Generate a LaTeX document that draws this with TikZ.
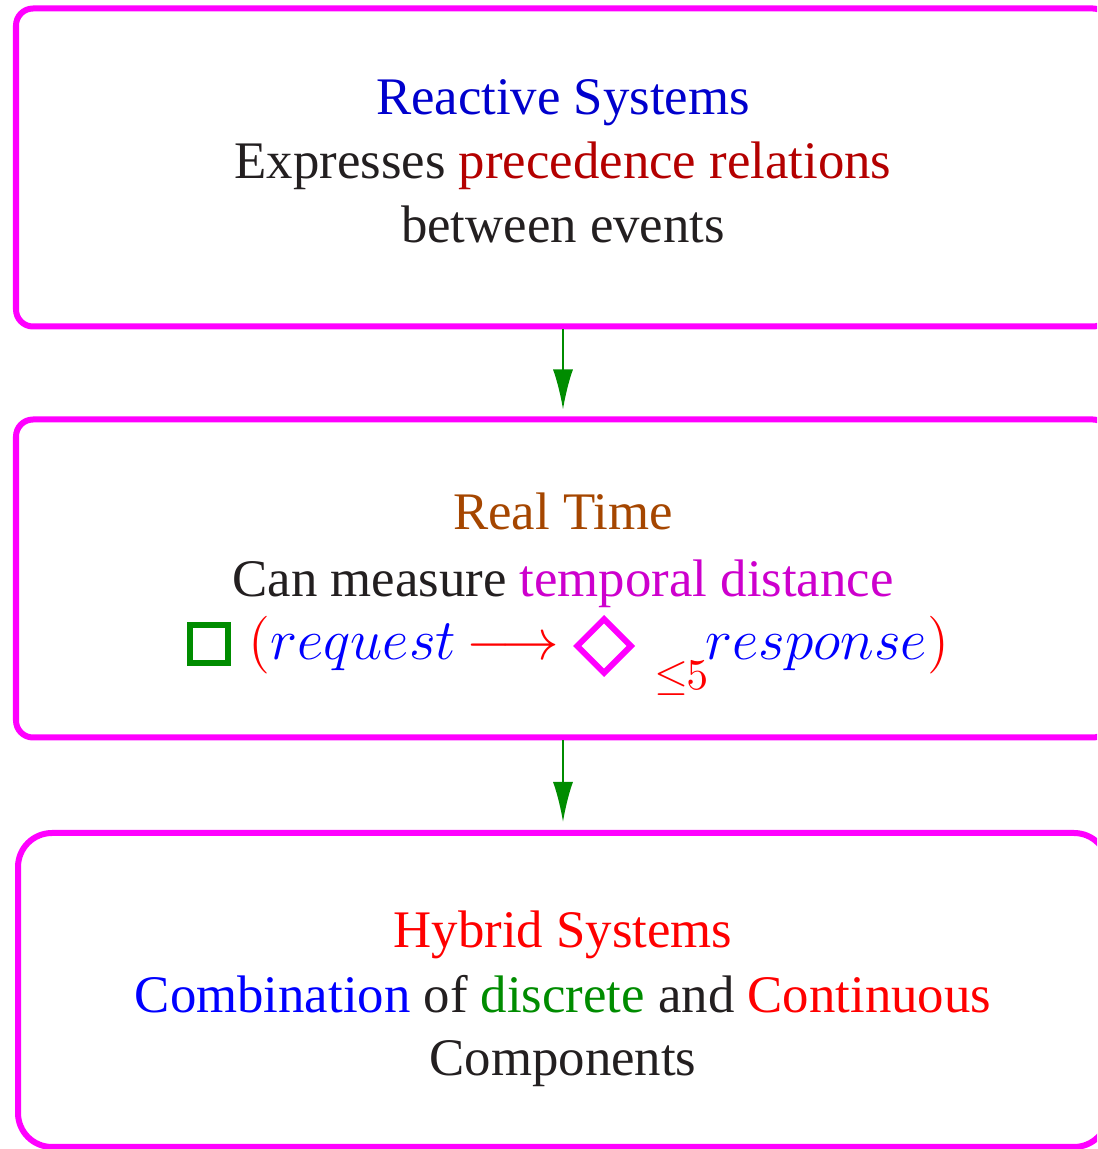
\documentclass[tikz,border=0pt]{standalone}
\usepackage[no-math]{fontspec}
\setmainfont{Liberation Serif}
\usepackage{amssymb}
\usetikzlibrary{arrows.meta}
\usetikzlibrary{shapes.geometric}
\usetikzlibrary{positioning}
\definecolor{framemag}{RGB}{255, 0, 255}
\definecolor{titleblue}{RGB}{0, 0, 205}
\definecolor{precred}{RGB}{180, 0, 0}
\definecolor{rtbrown}{RGB}{165, 70, 0}
\definecolor{tempmag}{RGB}{205, 0, 205}
\definecolor{flowgreen}{RGB}{0, 140, 0}
\definecolor{inkblack}{RGB}{35, 31, 32}

\tikzset{
  frame/.style={draw=framemag, line width=1.5pt, rounded corners=4.25pt,
    minimum width=273.5pt, minimum height=79.5pt, inner sep=0pt},
  textline/.style={anchor=base, inner sep=0pt, text=inkblack,
    font=\fontsize{13.2}{16}\selectfont},
  mathline/.style={anchor=base west, inner sep=0pt,
    font=\fontsize{14}{16}\selectfont},
  flow/.style={draw=flowgreen, line width=0.5pt,
    -{Latex[length=10pt, width=5pt]}}
}

\begin{document}
\begin{tikzpicture}[x=0.25pt, y=0.25pt]

 \useasboundingbox (0,0) rectangle (1097,1149);
 \clip (0,0) rectangle (1097,1149);

 % the three boxes
 \node[frame] (react) at (563,981.5) {};
 \node[frame] (rtime) at (563,570.5) {};
 \node[frame, rounded corners=8.5pt, minimum width=272.5pt, minimum height=78.5pt] (hybrid) at (563,159) {};

 % reactive systems
 \node[textline, text=titleblue] (reactTitle) at (563,1034) {Reactive Systems};
 \node[textline] (reactLineA) at (563,970) {Expresses \textcolor{precred}{precedence relations}};
 \node[textline] (reactLineB) at (563,906) {between events};

 % real time
 \node[textline, text=rtbrown] (rtTitle) at (563,619) {Real Time};
 \node[textline] (rtLineA) at (563,553) {Can measure \textcolor{tempmag}{temporal distance}};
 \node[draw=flowgreen, line width=1.5pt, minimum size=9.5pt, inner sep=0pt] (always) at (209,505) {};
 \node[mathline] (request) at (248,489) {$\color{red}(\color{blue}request$};
 \node[mathline, text=red] (implies) at (466,489) {$\longrightarrow$};
 \node[diamond, draw=framemag, line width=1.5pt, minimum width=14pt, minimum height=14pt, inner sep=0pt] (event) at (604,503) {};
 \node[mathline, text=red, font=\fontsize{10.5}{12}\selectfont] (bound) at (654,459) {$\leq\!\!5$};
 \node[mathline] (response) at (705,489) {$\color{blue}response\color{red})$};

 % hybrid systems
 \node[textline, text=red] (hybTitle) at (563,201) {Hybrid Systems};
 \node[textline] (hybLineA) at (563,137) {\textcolor{blue}{Combination} of \textcolor{flowgreen}{discrete} and \textcolor{red}{Continuous}};
 \node[textline] (hybLineB) at (563,74) {Components};

 \draw[flow, shorten >=1.75pt] (react) -- (rtime);
 \draw[flow, shorten >=2pt] (rtime) -- (hybrid);

\end{tikzpicture}
\end{document}
